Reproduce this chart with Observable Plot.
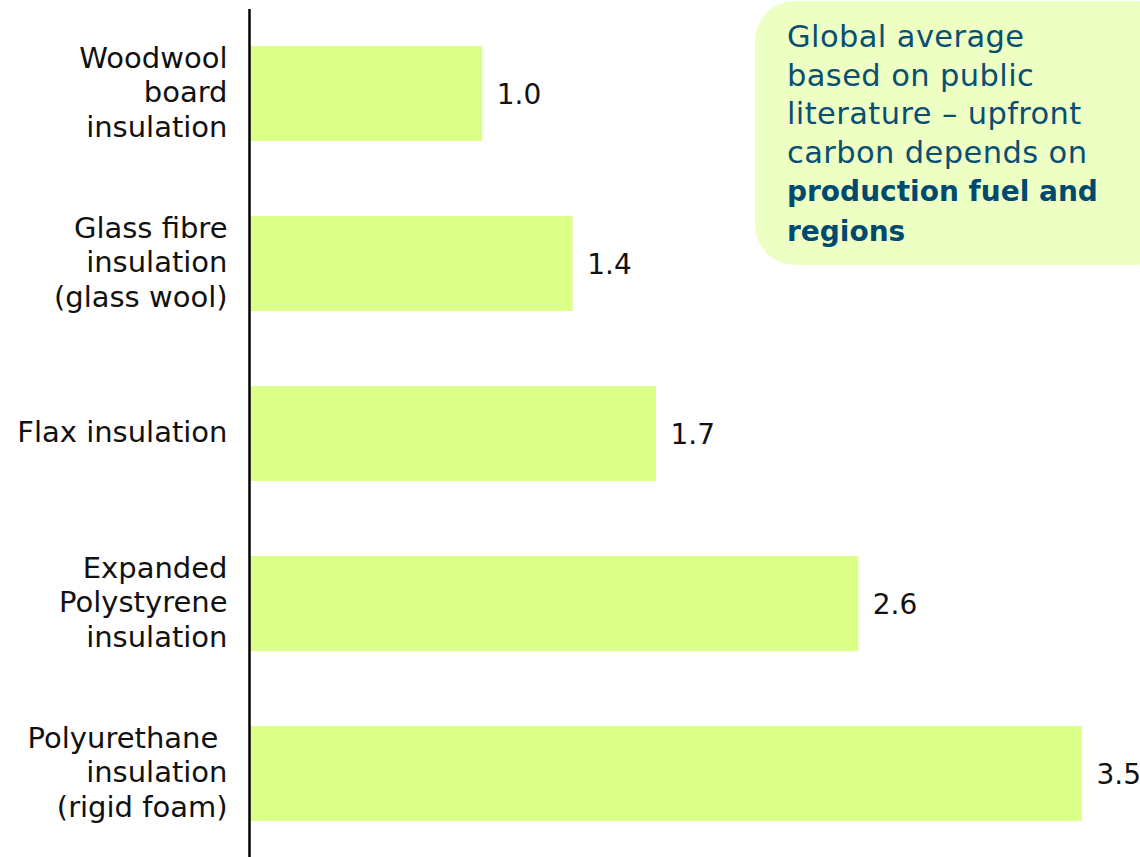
<!DOCTYPE html>
<html>
<head>
<meta charset="utf-8">
<script src="https://cdn.jsdelivr.net/npm/d3@7"></script>
<script src="https://cdn.jsdelivr.net/npm/@observablehq/plot@0.6"></script>
<style>
  html, body { margin: 0; padding: 0; background: #fff; }
  #wrap { position: relative; width: 1140px; height: 857px; overflow: hidden; }
  #note {
    position: absolute; left: 755px; top: 1px; width: 420px; height: 264px;
    box-sizing: border-box; padding: 17px 0 0 32px;
    background: #edffc2; border-radius: 40px;
    font-family: "DejaVu Sans", sans-serif; font-size: 30.5px; line-height: 38.5px;
    color: #0a4f72; letter-spacing: 0.4px;
  }
  #note b { color: #004a70; font-size: 28px; letter-spacing: 0; }
</style>
</head>
<body>
<div id="wrap">
  <div id="chart"></div>
  <div id="note">Global average<br>based on public<br>literature – upfront<br>carbon depends on<br><b>production fuel and<br>regions</b></div>
</div>
<script>
const categories = [
  "Woodwool\nboard\ninsulation",
  "Glass fibre\ninsulation\n(glass wool)",
  "Flax insulation",
  "Expanded\nPolystyrene\ninsulation",
  "Polyurethane \ninsulation\n(rigid foam)"
];
const values = [0.98, 1.36, 1.71, 2.56, 3.5];
const labels = ["1.0", "1.4", "1.7", "2.6", "3.5"];

const data = categories.map((c, i) => ({category: c, value: values[i], label: labels[i]}));

const chart = Plot.plot({
  width: 1140,
  height: 857,
  marginLeft: 249,
  marginRight: 58,
  marginTop: 9,
  marginBottom: 0,
  style: {fontFamily: "DejaVu Sans, sans-serif", background: "transparent"},
  x: {domain: [0, 3.5], axis: null},
  y: {domain: categories, paddingInner: 0.442, paddingOuter: 0.2145, label: null},
  marks: [
    Plot.barX(data, {x: "value", y: "category", fill: "#dcff8a"}),
    Plot.text(data, {x: "value", y: "category", text: "label", textAnchor: "start", dx: 14, dy: 1, fontSize: 28, fill: "#111"}),
    Plot.axisY({tickSize: 0, tickPadding: 22, dy: -3, fontSize: 29, lineHeight: 1.19, fill: "#111", label: null}),
    Plot.ruleX([0], {stroke: "#000", strokeWidth: 2.5})
  ]
});
document.getElementById("chart").appendChild(chart);
</script>
</body>
</html>
